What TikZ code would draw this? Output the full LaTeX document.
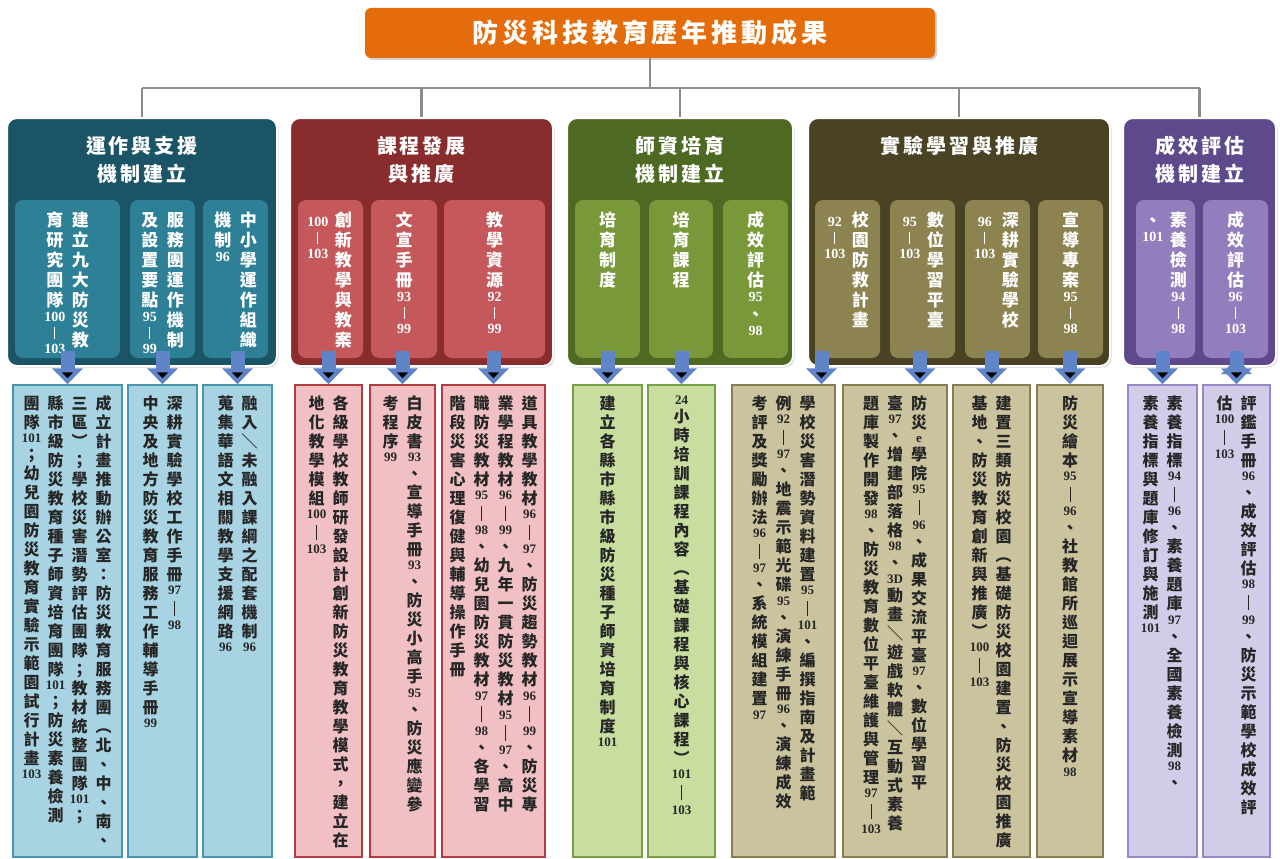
\documentclass[tikz,border=0pt]{standalone}
\usepackage{fontspec}
\setmainfont{Noto Sans CJK TC}
\newfontfamily\ttlf{Noto Sans CJK TC}[LetterSpace=15]
\newfontfamily\numf{Liberation Serif}
\usetikzlibrary{arrows.meta,shadows}
\TeXXeTstate=1

\definecolor{ttlorange}{RGB}{228,108,10}
\definecolor{busgray}{RGB}{140,140,140}
\definecolor{flowblue}{RGB}{96,132,200}
\definecolor{tealD}{RGB}{27,84,102}
\definecolor{tealM}{RGB}{45,128,150}
\definecolor{tealL}{RGB}{167,211,226}
\definecolor{tealB}{RGB}{70,150,175}
\definecolor{redD}{RGB}{137,44,46}
\definecolor{redM}{RGB}{196,88,90}
\definecolor{redL}{RGB}{240,192,196}
\definecolor{redB}{RGB}{178,60,64}
\definecolor{grnD}{RGB}{78,105,33}
\definecolor{grnM}{RGB}{120,152,58}
\definecolor{grnL}{RGB}{200,221,158}
\definecolor{grnB}{RGB}{120,160,70}
\definecolor{oliD}{RGB}{73,66,36}
\definecolor{oliM}{RGB}{140,131,80}
\definecolor{oliL}{RGB}{203,195,157}
\definecolor{oliB}{RGB}{135,125,80}
\definecolor{purD}{RGB}{94,74,138}
\definecolor{purM}{RGB}{146,126,188}
\definecolor{purL}{RGB}{211,204,232}
\definecolor{purB}{RGB}{150,135,200}

\makeatletter
\newdimen\vpitch \newdimen\vbarl
\newif\ifvsmall
\newcommand\setv[4]{\fontsize{#1}{#2}\selectfont\vpitch=#2\relax\def\yrsz{#3}\vbarl=#4\relax}
\newcommand\yr{\vsmalltrue\numf\bfseries\fontsize{\yrsz}{\yrsz}\selectfont
  \vrule height.55\vpitch depth.15\vpitch width0pt\relax}
\newcommand\vb{\vsmalltrue\vrule height.75\vbarl depth.25\vbarl width0pt\relax
  \vrule height.6\vbarl depth.1\vbarl width.05em\relax}
\newcommand\vcol[1]{\vtop{\offinterlineskip
  \@tfor\vch:=#1\do{\hbox to1em{\hss\vch\hss
    \ifvsmall\else\vrule height.8\vpitch depth.2\vpitch width0pt\fi}}}%
  \hskip.5em\relax}
\newcommand\vtext[2]{\vbox to#1{\hbox{\beginR#2\unskip\endR}\vfil}}
\newcommand\gtitle[2]{\parbox[t][212pt][t]{#1}{\centering#2}}
\makeatother

\begin{document}
\begin{tikzpicture}[x=1pt,y=-1pt,
  ttl/.style={fill=ttlorange, text=white, rounded corners=6pt,
    minimum width=570pt, minimum height=50pt,
    font=\ttlf\bfseries\fontsize{26pt}{30pt}\selectfont,
    drop shadow={shadow xshift=2pt,shadow yshift=-2pt,opacity=.35}},
  grp/.style={fill=#1, draw=white, line width=2pt, rounded corners=10pt,
    inner xsep=0pt, inner ysep=18pt, text=white,
    font=\ttlf\bfseries\fontsize{20pt}{28pt}\selectfont,
    drop shadow={shadow xshift=1.5pt,shadow yshift=-1.5pt,opacity=.35}},
  sub/.style={fill=#1, rounded corners=8pt, text=white,
    inner xsep=0pt, inner ysep=10pt, minimum height=158pt,
    font=\bfseries\setv{17pt}{20pt}{14pt}{18pt}},
  bot/.style 2 args={fill=#1, draw=#2, line width=1.5pt,
    inner xsep=0pt, inner ysep=9pt, minimum height=472pt, text=black!85,
    font=\bfseries\setv{16pt}{19pt}{13pt}{22pt}},
  bus/.style={draw=busgray, line width=2.5pt},
  flow/.style={draw=flowblue, line width=14pt, shorten <=-7pt,
    -{Triangle[width=30pt,length=16pt]}}]
  \fill[white] (0,0) rectangle (1280,859);
  \useasboundingbox (0,0) rectangle (1280,859);

  \node[ttl] (ttl) at (650,33) {防災科技教育歷年推動成果};

  \node[grp=tealD] (g1) at (142,242) {\gtitle{270pt}{運作與支援\\機制建立}};
  \node[grp=redD] (g2) at (421.5,242) {\gtitle{263pt}{課程發展\\與推廣}};
  \node[grp=grnD] (g3) at (680,242) {\gtitle{226pt}{師資培育\\機制建立}};
  \node[grp=oliD] (g4) at (959,242) {\gtitle{302pt}{實驗學習與推廣}};
  \node[grp=purD] (g5) at (1199.5,242) {\gtitle{153pt}{成效評估\\機制建立}};

  \coordinate (bus) at (650,88);
  \draw[bus] (ttl.south) -- (bus);
  \draw[bus] (bus -| g1.north) -- (bus -| g5.north);
  \path[bus] (bus -| g1.north) edge (g1.north)
             (bus -| g2.north) edge (g2.north)
             (bus -| g3.north) edge (g3.north)
             (bus -| g4.north) edge (g4.north)
             (bus -| g5.north) edge (g5.north);

  \node[sub=tealM, minimum width=105pt] (s1) at (67.5,279)
    {\vtext{138pt}{\vcol{建立九大防災教}\vcol{育研究團隊{\yr100}\vb{\yr103}}}};
  \node[sub=tealM, minimum width=65pt] (s2) at (162.5,279)
    {\vtext{138pt}{\vcol{服務團運作機制}\vcol{及設置要點{\yr95}\vb{\yr99}}}};
  \node[sub=tealM, minimum width=65pt] (s3) at (235.5,279)
    {\vtext{138pt}{\vcol{中小學運作組織}\vcol{機制{\yr96}}}};
  \node[sub=redM, minimum width=65pt] (s4) at (330.5,279)
    {\vtext{138pt}{\vcol{創新教學與教案}\vcol{{\yr100}\vb{\yr103}}}};
  \node[sub=redM, minimum width=66pt] (s5) at (404,279)
    {\vtext{138pt}{\vcol{文宣手冊{\yr93}\vb{\yr99}}}};
  \node[sub=redM, minimum width=101pt] (s6) at (494.5,279)
    {\vtext{138pt}{\vcol{教學資源{\yr92}\vb{\yr99}}}};
  \node[sub=grnM, minimum width=65pt] (s7) at (607.5,279)
    {\vtext{138pt}{\vcol{培育制度}}};
  \node[sub=grnM, minimum width=64pt] (s8) at (681,279)
    {\vtext{138pt}{\vcol{培育課程}}};
  \node[sub=grnM, minimum width=65pt] (s9) at (755.5,279)
    {\vtext{138pt}{\vcol{成效評估{\yr95}、{\yr98}}}};
  \node[sub=oliM, minimum width=65pt] (s10) at (847.5,279)
    {\vtext{138pt}{\vcol{校園防救計畫}\vcol{{\yr92}\vb{\yr103}}}};
  \node[sub=oliM, minimum width=65pt] (s11) at (922.5,279)
    {\vtext{138pt}{\vcol{數位學習平臺}\vcol{{\yr95}\vb{\yr103}}}};
  \node[sub=oliM, minimum width=65pt] (s12) at (997.5,279)
    {\vtext{138pt}{\vcol{深耕實驗學校}\vcol{{\yr96}\vb{\yr103}}}};
  \node[sub=oliM, minimum width=65pt] (s13) at (1070.5,279)
    {\vtext{138pt}{\vcol{宣導專案{\yr95}\vb{\yr98}}}};
  \node[sub=purM, minimum width=59pt] (s14) at (1165.5,279)
    {\vtext{138pt}{\vcol{素養檢測{\yr94}\vb{\yr98}}\vcol{、{\yr101}}}};
  \node[sub=purM, minimum width=65pt] (s15) at (1235.5,279)
    {\vtext{138pt}{\vcol{成效評估{\yr96}\vb{\yr103}}}};

  \node[bot={tealL}{tealB}, minimum width=109pt] (b1) at (67.5,621)
    {\vtext{454pt}{\vcol{成立計畫推動辦公室：防災教育服務團︵北、中、南、}%
      \vcol{三區︶；學校災害潛勢評估團隊；教材統整團隊{\yr101}；}%
      \vcol{縣市級防災教育種子師資培育團隊{\yr101}；防災素養檢測}%
      \vcol{團隊{\yr101}；幼兒園防災教育實驗示範園試行計畫{\yr103}}}};
  \node[bot={tealL}{tealB}, minimum width=69pt] (b2) at (162.5,621)
    {\vtext{454pt}{\vcol{深耕實驗學校工作手冊{\yr97}\vb{\yr98}}%
      \vcol{中央及地方防災教育服務工作輔導手冊{\yr99}}}};
  \node[bot={tealL}{tealB}, minimum width=69pt] (b3) at (237.5,621)
    {\vtext{454pt}{\vcol{融入＼未融入課綱之配套機制{\yr96}}%
      \vcol{蒐集華語文相關教學支援網路{\yr96}}}};
  \node[bot={redL}{redB}, minimum width=67pt] (b4) at (328.5,621)
    {\vtext{454pt}{\vcol{各級學校教師研發設計創新防災教育教學模式，建立在}%
      \vcol{地化教學模組{\yr100}\vb{\yr103}}}};
  \node[bot={redL}{redB}, minimum width=65pt] (b5) at (402.5,621)
    {\vtext{454pt}{\vcol{白皮書{\yr93}、宣導手冊{\yr93}、防災小高手{\yr95}、防災應變參}%
      \vcol{考程序{\yr99}}}};
  \node[bot={redL}{redB}, minimum width=103pt] (b6) at (493.5,621)
    {\vtext{454pt}{\vcol{道具教學教材{\yr96}\vb{\yr97}、防災趨勢教材{\yr96}\vb{\yr99}、防災專}%
      \vcol{業學程教材{\yr96}\vb{\yr99}、九年一貫防災教材{\yr95}\vb{\yr97}、高中}%
      \vcol{職防災教材{\yr95}\vb{\yr98}、幼兒園防災教材{\yr97}\vb{\yr98}、各學習}%
      \vcol{階段災害心理復健與輔導操作手冊}}};
  \node[bot={grnL}{grnB}, minimum width=69pt] (b7) at (607.5,621)
    {\vtext{454pt}{\vcol{建立各縣市縣市級防災種子師資培育制度{\yr101}}}};
  \node[bot={grnL}{grnB}, minimum width=67pt] (b8) at (681.5,621)
    {\vtext{454pt}{\vcol{{\yr24}小時培訓課程內容︵基礎課程與核心課程︶{\yr101}\vb{\yr103}}}};
  \node[bot={oliL}{oliB}, minimum width=103pt] (b9) at (783.5,621)
    {\vtext{454pt}{\vcol{學校災害潛勢資料建置{\yr95}\vb{\yr101}、編撰指南及計畫範}%
      \vcol{例{\yr92}\vb{\yr97}、地震示範光碟{\yr95}、演練手冊{\yr96}、演練成效}%
      \vcol{考評及獎勵辦法{\yr96}\vb{\yr97}、系統模組建置{\yr97}}}};
  \node[bot={oliL}{oliB}, minimum width=104pt] (b10) at (895,621)
    {\vtext{454pt}{\vcol{防災{\yr e}學院{\yr95}\vb{\yr96}、成果交流平臺{\yr97}、數位學習平}%
      \vcol{臺{\yr97}、增建部落格{\yr98}、{\yr3D}動畫＼遊戲軟體＼互動式素養}%
      \vcol{題庫製作開發{\yr98}、防災教育數位平臺維護與管理{\yr97}\vb{\yr103}}}};
  \node[bot={oliL}{oliB}, minimum width=77pt] (b11) at (991.5,621)
    {\vtext{454pt}{\vcol{建置三類防災校園︵基礎防災校園建置、防災校園推廣}%
      \vcol{基地、防災教育創新與推廣︶{\yr100}\vb{\yr103}}}};
  \node[bot={oliL}{oliB}, minimum width=66pt] (b12) at (1070,621)
    {\vtext{454pt}{\vcol{防災繪本{\yr95}\vb{\yr96}、社教館所巡迴展示宣導素材{\yr98}}}};
  \node[bot={purL}{purB}, minimum width=69pt] (b13) at (1162.5,621)
    {\vtext{454pt}{\vcol{素養指標{\yr94}\vb{\yr96}、素養題庫{\yr97}、全國素養檢測{\yr98}、}%
      \vcol{素養指標與題庫修訂與施測{\yr101}}}};
  \node[bot={purL}{purB}, minimum width=67pt] (b14) at (1236.5,621)
    {\vtext{454pt}{\vcol{評鑑手冊{\yr96}、成效評估{\yr98}\vb{\yr99}、防災示範學校成效評}%
      \vcol{估{\yr100}\vb{\yr103}}}};

  \coordinate (t9) at ([xshift=38pt]b9.north);
  \coordinate (t10) at ([xshift=25pt]b10.north);
  \path[flow] (s1.south -| b1.north) edge (b1.north)
              (s2.south -| b2.north) edge (b2.north)
              (s3.south -| b3.north) edge (b3.north)
              (s4.south -| b4.north) edge (b4.north)
              (s5.south -| b5.north) edge (b5.north)
              (s6.south -| b6.north) edge (b6.north)
              (s7.south -| b7.north) edge (b7.north)
              (s8.south -| b8.north) edge (b8.north)
              (s10.south -| t9) edge (t9)
              (s11.south -| t10) edge (t10)
              (s12.south -| b11.north) edge (b11.north)
              (s13.south -| b12.north) edge (b12.north)
              (s14.south -| b13.north) edge (b13.north)
              (s15.south -| b14.north) edge (b14.north);
\end{tikzpicture}
\end{document}
